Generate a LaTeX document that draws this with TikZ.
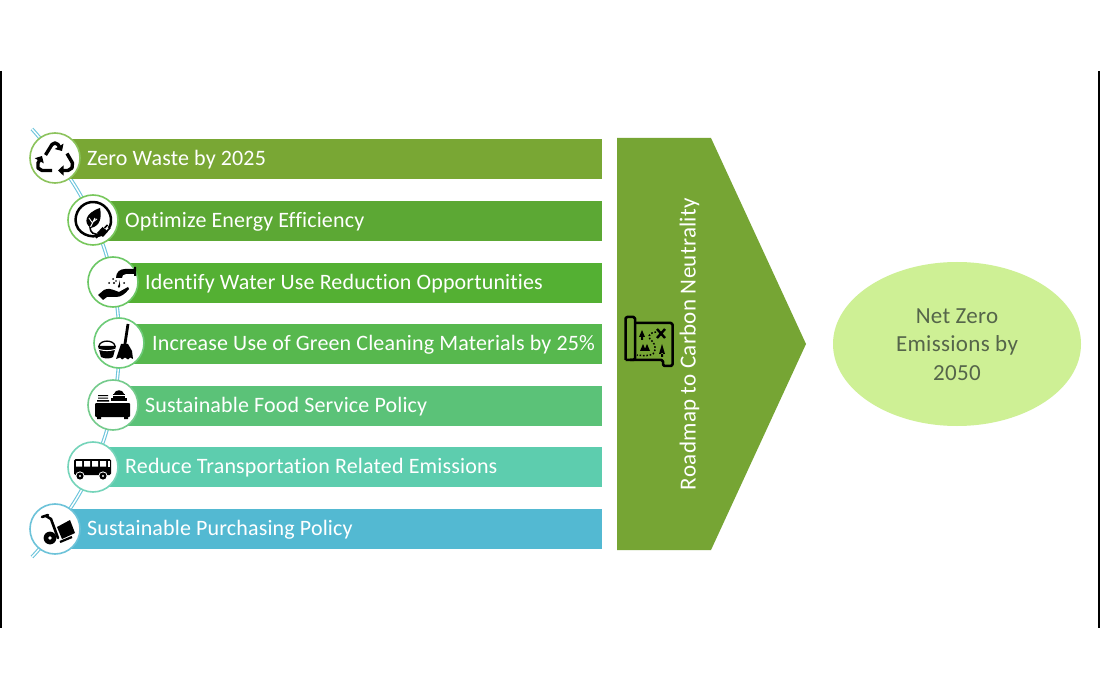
\documentclass[tikz,border=0pt]{standalone}
\usepackage{fontspec}
\setmainfont[Ligatures=NoCommon]{Carlito}
\newfontfamily\widefont[LetterSpace=0.7,Ligatures=NoCommon]{Carlito}
\newfontfamily\widerfont[LetterSpace=1.3,Ligatures=NoCommon]{Carlito}
\usetikzlibrary{arrows.meta,calc,shapes.geometric}
\definecolor{barA}{HTML}{79A734}
\definecolor{barB}{HTML}{5CA834}
\definecolor{barC}{HTML}{54B033}
\definecolor{barD}{HTML}{57B84E}
\definecolor{barE}{HTML}{5BC278}
\definecolor{barF}{HTML}{5DCDAE}
\definecolor{barG}{HTML}{53B9D2}
\definecolor{ringA}{HTML}{8CC35C}
\definecolor{ringB}{HTML}{78C75C}
\definecolor{ringC}{HTML}{6CC765}
\definecolor{ringD}{HTML}{6CCB78}
\definecolor{trackc}{HTML}{6CC5DC}
\definecolor{roadc}{HTML}{76A534}
\definecolor{goalc}{HTML}{CEF095}
\definecolor{goaltext}{HTML}{55654A}
\tikzset{
 bartext/.style={anchor=west,text=white,font=\widefont\fontsize{22}{24}\selectfont,inner sep=0pt},
 ring/.style={circle,draw=#1,fill=white,line width=1.6pt,minimum size=50pt,inner sep=0pt},
 track/.style={draw=trackc,double=white,double distance=1.4pt,line width=1.1pt},
 ink/.style={draw=black,line width=3.4pt,line cap=butt,line join=round},
 rarrow/.style={ink,-{Triangle[length=5.5pt,width=10pt]}},
 mapline/.style={draw=black,line width=2.5pt,line join=round,rounded corners=1.5pt},
}
\newcommand{\barrow}[6]{% name, y top, colour, text x, circle centre x, text
 \fill[#3] (#5,#2) rectangle (602,#2+40);
 \node[bartext] (#1) at (#4,#2+21) {#6};
}
\begin{document}
\begin{tikzpicture}[x=1pt,y=-1pt]
\useasboundingbox (0,0) rectangle (1100,700);
\fill[white] (0,0) rectangle (1100,700);
\coordinate (ll1) at (1,71); \coordinate (ll2) at (1,628);
\coordinate (rl1) at (1099,71); \coordinate (rl2) at (1099,628);
\draw[black,line width=1.6pt] (ll1) -- (ll2);
\draw[black,line width=1.6pt] (rl1) -- (rl2);

% track
\coordinate (top) at (32,129);
\coordinate (bot) at (32,557);
\coordinate (t1) at (55,158);
\coordinate (t2) at (93,220);
\coordinate (t3) at (113,282);
\coordinate (t4) at (119,343);
\coordinate (t5) at (113,405);
\coordinate (t6) at (93,467);
\coordinate (t7) at (55,529);
\path[track] (top) to[bend left=3.5] (t1) to[bend left=6.7] (t2) to[bend left=6] (t3) to[bend left=5.7] (t4)
 to[bend left=5.7] (t5) to[bend left=6] (t6) to[bend left=6.7] (t7) to[bend left=3.5] (bot);

% bars
\barrow{b1}{139}{barA}{87}{55}{Zero Waste by 2025}
\barrow{b2}{201}{barB}{125}{93}{Optimize Energy Efficiency}
\barrow{b3}{263}{barC}{145}{113}{Identify Water Use Reduction Opportunities}
\barrow{b4}{324}{barD}{152}{119}{Increase Use of Green Cleaning Materials by 25\%}
\barrow{b5}{386}{barE}{145}{113}{Sustainable Food Service Policy}
\barrow{b6}{447}{barF}{125}{93}{Reduce Transportation Related Emissions}
\barrow{b7}{509}{barG}{87}{55}{Sustainable Purchasing Policy}

% rings
\node[ring=ringA] (c1) at (55,158) {};
\node[ring=ringB] (c2) at (93,220) {};
\node[ring=ringC] (c3) at (113,282) {};
\node[ring=ringD] (c4) at (119,343) {};
\node[ring=barE!85!white] (c5) at (113,405) {};
\node[ring=barF!85!white] (c6) at (93,467) {};
\node[ring=barG!85!white] (c7) at (55,529) {};

% recycle
\begin{scope}[shift={(c1)}]
 \draw[rarrow] (-9.5,-3) -- (-3,-13.5) -- (0,-15) -- (3,-13.5) -- (7,-7);
 \draw[rarrow] (12,-4.5) -- (17.5,5) -- (17,10) -- (13,12.5) -- (3,12.5);
 \draw[rarrow] (-3,12.5) -- (-13,12.5) -- (-17,10) -- (-17,5) -- (-13,-2);
\end{scope}

% leaf and plug
\begin{scope}[shift={(c2)}]
 \draw[ink,line width=2.5pt] (8,15) .. controls (-2,19) and (-17,14) .. (-17.5,0)
   .. controls (-17,-12) and (-8,-18) .. (0,-18)
   .. controls (11,-18) and (19,-8) .. (18,2) .. controls (18,4) and (17,6) .. (16,8);
 \fill[black] (-2,8) .. controls (-10,3) and (-8,-7) .. (7,-12) .. controls (9,-2) and (7,6) .. (-2,8) -- cycle;
 \draw[white,line width=.9pt] (-3,8) -- (2,-2) (0,2) -- (4,-1) (-.5,3) -- (-4,-2);
 \draw[black,line width=1.6pt] (-3,7) .. controls (-3,13) and (1,15) .. (7,14);
 \fill[black] (4,13) -- (9.5,7) -- (15,11.5) -- (10,17) -- cycle;
 \draw[black,line width=1.5pt] (11.5,8) -- (14.5,5) (14,11) -- (17,8) (6,15) -- (3,18);
\end{scope}

% water and hand
\begin{scope}[shift={(c3)}]
 \fill[black] (3,-4) .. controls (3,-10) and (7,-13) .. (12,-13) -- (21,-13) -- (21,-15) -- (23,-15) -- (23,-6) -- (21,-6) -- (21,-8)
   -- (13,-8) .. controls (10,-8) and (9,-6) .. (9,-4) -- cycle;
 \fill[black] (6,2) .. controls (4,4) and (5,6) .. (6,6) .. controls (7,6) and (8,4) .. (6,-2) -- cycle;
 \fill[black] (1,1) circle (1.2) (0,-3) circle (1) (-4,1) circle (1) (11,1) circle (1) (3,-1) circle (.8);
 \fill[black] (-15,13) -- (-9,8) .. controls (-5,6) and (-2,7) .. (2,8.5) -- (6,10) -- (15,5) -- (16,7)
   .. controls (12,12) and (8,15) .. (3,15) -- (-6,15) -- (-10,18) -- cycle;
\end{scope}

% bucket and mop
\begin{scope}[shift={(c4)}]
 \fill[black] (-21,3) -- (-3,3) -- (-6,14) .. controls (-9,16) and (-14,16) .. (-18,14) -- cycle;
 \draw[black,line width=1.3pt] (-20,3) .. controls (-19,-3.5) and (-5,-3.5) .. (-4,3);
 \draw[white,line width=.9pt] (-20,6.5) .. controls (-14,8) and (-10,8) .. (-4,6.5);
 \draw[black,line width=2.8pt] (9,-19) -- (5.5,4);
 \fill[black] (2,1) -- (9,1) -- (13,8) -- (14,16) -- (11,14.5) -- (9,16.5) -- (6,14.5) -- (3,16.5) -- (1,14.5) -- (-3,16) -- cycle;
\end{scope}

% food service
\begin{scope}[shift={(c5)}]
 \fill[black,rounded corners=1pt] (-18,-2) rectangle (17,12);
 \fill[black] (-16,12) rectangle (-12,14) (11,12) rectangle (15,14);
 \fill[black] (-15,-10) rectangle (-5,-8.8) (-15,-7.5) rectangle (-5,-6.3) (-16,-5) rectangle (-4,-3.5);
 \fill[black] (-2,-7) rectangle (14,-4);
 \fill[black] (0,-11) rectangle (12,-5);
 \fill[black] (1,-11) .. controls (2,-16) and (10,-16) .. (11,-11) -- cycle;
 \draw[white,line width=.7pt] (0,-10) -- (12,-10);
\end{scope}

% bus
\begin{scope}[shift={(c6)}]
 \fill[black,rounded corners=1.5pt] (-19,-8) rectangle (18,8);
 \fill[white] (-17,-6) rectangle (-11,-.5) (-9,-6) rectangle (-3,-.5) (-1,-6) rectangle (5,-.5) (7,-6) rectangle (13,-.5);
 \fill[white] (15,-6) rectangle (16.8,-.5);
 \fill[white] (-13,9) circle (4.6) (10,9) circle (4.6);
 \fill[black] (-13,9) circle (3.6) (10,9) circle (3.6);
 \fill[white] (-13,9) circle (1.2) (10,9) circle (1.2);
\end{scope}

% hand truck
\begin{scope}[shift={(c7)}]
 \draw[black,line width=2.6pt,line cap=round] (-13,-12) -- (-7,-14);
 \draw[black,line width=2.6pt,line cap=round] (-9,-13) -- (-4,-10) -- (3,9);
 \fill[black] (-5,9) circle (6.4);
 \fill[white] (-5,9) circle (1.9);
 \fill[black] (2,-2) -- (15,-9) -- (20,4) -- (7,10) -- cycle;
 \draw[black,line width=2.2pt] (5,13) -- (17,8);
\end{scope}

% roadmap arrow
\fill[roadc] (617,138) -- (711,138) -- (806,344) -- (711,550) -- (617,550) -- cycle;
\node[rotate=90,text=white,font=\widerfont\fontsize{23}{24}\selectfont,inner sep=0pt] (road) at (689.5,344) {Roadmap to Carbon Neutrality};

% map icon
\begin{scope}[shift={(649,341)}]
 \draw[mapline] (-14,-18) -- (23.5,-18) -- (23.5,25) -- (14,25) -- (14,19) -- (-19,19);
 \draw[mapline] (-23.5,19) -- (-23.5,-24) -- (-14,-24) -- (-14,19) -- (-19,19) -- (-23.5,19);
 \fill[black] (-7,-11) -- (-4,-4) -- (-6,-4) -- (-6,-1) -- (-8,-1) -- (-8,-4) -- (-10,-4) -- cycle;
 \draw[black,line width=2.4pt] (8,-12) -- (16,-3) (16,-12) -- (8,-3);
 \fill[black] (-6,3) -- (-3,10) -- (-9,10) -- cycle (-2,3) -- (1,10) -- (-5,10) -- cycle;
 \fill[black] (13,3) -- (16,13) -- (10,13) -- cycle (12,12) rectangle (14,16);
 \draw[black,line width=1.5pt,dash pattern=on 1.6pt off 1.8pt] (7,-9) .. controls (-2,-8) and (-1,-3) .. (3,0) .. controls (7,4) and (7,10) .. (4,13) .. controls (0,15) and (-6,15) .. (-12,14);
\end{scope}

% goal
\node[ellipse,fill=goalc,minimum width=248pt,minimum height=164pt,inner sep=0pt] (goal) at (957,344) {};
\node[align=center,text=goaltext,font=\widerfont\fontsize{23}{28.5}\selectfont] (goaltxt) at (957,344.5) {Net Zero\\Emissions by\\2050};
\end{tikzpicture}
\end{document}
